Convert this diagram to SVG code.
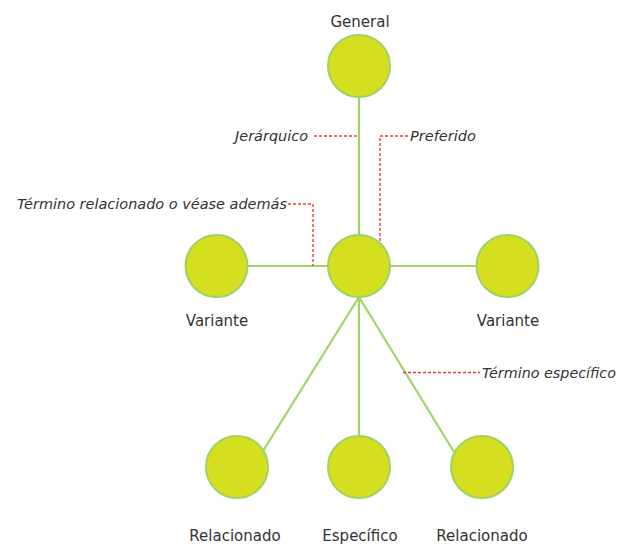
<svg xmlns="http://www.w3.org/2000/svg" width="617" height="545" viewBox="0 0 617 545">
<style>
.node{fill:#d6de20;stroke:#9fd264;stroke-width:2}
.edge{stroke:#9fd468;stroke-width:2.2;fill:none}
.lead{stroke:#f03a3a;stroke-width:1.4;stroke-dasharray:3 2;fill:none}
.lbl{font-family:"DejaVu Sans","Liberation Sans",sans-serif;font-size:15px;fill:#333;text-anchor:middle}
.note{font-family:"DejaVu Sans","Liberation Sans",sans-serif;font-size:13.5px;font-style:italic;fill:#333}
</style>
<rect width="617" height="545" fill="#fff"/>
<g id="connectors">
<line class="edge" x1="359" y1="96" x2="359" y2="236"/>
<line class="edge" x1="247" y1="266" x2="328" y2="266"/>
<line class="edge" x1="390" y1="266" x2="477" y2="266"/>
<line class="edge" x1="359" y1="297" x2="263" y2="451"/>
<line class="edge" x1="359" y1="297" x2="359" y2="436"/>
<line class="edge" x1="359" y1="297" x2="454" y2="452"/>
</g>
<g id="leaders">
<polyline class="lead" points="314,136 358,136"/>
<polyline class="lead" points="408,136 380,136 380,245"/>
<polyline class="lead" points="288,204 313,204 313,266"/>
<polyline class="lead" points="403,372.5 480,372.5"/>
<text class="note" x="235" y="141" textLength="73" lengthAdjust="spacingAndGlyphs">Jerárquico</text>
<text class="note" x="410" y="141" textLength="66" lengthAdjust="spacingAndGlyphs">Preferido</text>
<text class="note" x="17" y="209" textLength="270" lengthAdjust="spacingAndGlyphs">Término relacionado o véase además</text>
<text class="note" x="482" y="378" textLength="134" lengthAdjust="spacingAndGlyphs">Término específico</text>
</g>
<g id="general"><circle class="node" cx="359" cy="66" r="31"/><text class="lbl" x="360" y="27">General</text></g>
<g id="preferido"><circle class="node" cx="359" cy="266" r="31"/></g>
<g id="variante-izq"><circle class="node" cx="216.5" cy="266" r="31"/><text class="lbl" x="217" y="326">Variante</text></g>
<g id="variante-der"><circle class="node" cx="507.5" cy="266" r="31"/><text class="lbl" x="508" y="326">Variante</text></g>
<g id="relacionado-izq"><circle class="node" cx="237" cy="467" r="31"/><text class="lbl" x="235" y="541">Relacionado</text></g>
<g id="especifico"><circle class="node" cx="359" cy="467" r="31"/><text class="lbl" x="360" y="541">Específico</text></g>
<g id="relacionado-der"><circle class="node" cx="482" cy="467" r="31"/><text class="lbl" x="482" y="541">Relacionado</text></g>
</svg>
